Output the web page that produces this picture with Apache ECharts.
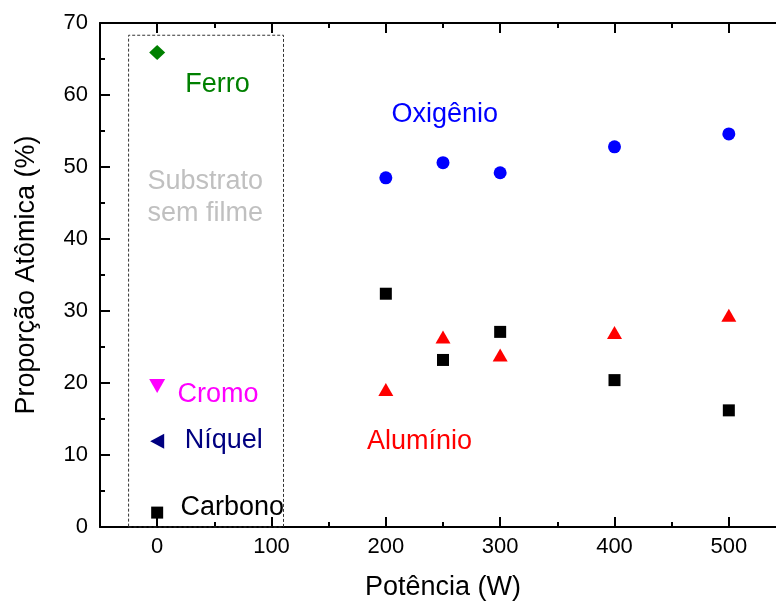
<!DOCTYPE html>
<html>
<head>
<meta charset="utf-8">
<script src="https://cdn.jsdelivr.net/npm/echarts@6/dist/echarts.min.js"></script>
<style>html,body{margin:0;padding:0;background:#fff;}#c{width:776px;height:602px;}</style>
</head>
<body>
<div id="c"></div>
<script>
// ---- data ----
const potencia = [200, 250, 300, 400, 500];
const oxigenio = [48.5, 50.6, 49.2, 52.8, 54.6];
const carbono  = [32.4, 23.2, 27.1, 20.4, 16.2];
const aluminio = [19.1, 26.4, 23.9, 27.0, 29.4];
const substratoX = 0;
const ferroSub   = 65.9;
const cromoSub   = 19.6;
const niquelSub  = 11.9;
const carbonoSub = 2.0;
const xMajor = [0, 100, 200, 300, 400, 500];
const xMinor = [50, 150, 250, 350, 450];
const labelTexts = ['Ferro', 'Oxigênio', 'Substrato', 'sem filme', 'Cromo', 'Níquel', 'Alumínio', 'Carbono'];

const FONT = "'Liberation Sans', Arial, sans-serif";
const chart = echarts.init(document.getElementById('c'), null, {renderer: 'canvas'});

function xAxisDef(pos, ticks, len, withLine, withLabel) {
  return {
    type: 'value', min: -50, max: 550, position: pos,
    axisLine: {show: withLine, onZero: false, lineStyle: {color: '#000', width: 2}},
    axisTick: {show: true, inside: true, length: len, customValues: ticks, lineStyle: {color: '#000', width: 2}},
    axisLabel: withLabel ? {show: true, customValues: xMajor, fontSize: 22, color: '#000', fontFamily: FONT, margin: 9} : {show: false},
    splitLine: {show: false}
  };
}
function yAxisDef(pos, withLabel) {
  return {
    type: 'value', min: 0, max: 70, interval: 10, position: pos,
    axisLine: {show: true, onZero: false, lineStyle: {color: '#000', width: 2}},
    axisTick: {show: true, inside: true, length: 10, lineStyle: {color: '#000', width: 2}},
    minorTick: {show: true, splitNumber: 2, length: 5, lineStyle: {color: '#000', width: 2}},
    axisLabel: withLabel ? {show: true, fontSize: 22, color: '#000', fontFamily: FONT, margin: 12} : {show: false},
    splitLine: {show: false}
  };
}

const xBottom = xAxisDef('bottom', xMajor, 10, true, true);
xBottom.name = 'Potência (W)';
xBottom.nameLocation = 'middle';
xBottom.nameGap = 47;
xBottom.nameTextStyle = {fontSize: 27, color: '#000', fontFamily: FONT};
const yLeft = yAxisDef('left', true);
yLeft.name = 'Proporção Atômica (%)';
yLeft.nameLocation = 'middle';
yLeft.nameGap = 60;
yLeft.nameTextStyle = {fontSize: 27, color: '#000', fontFamily: FONT};

const labelPos = [[52.7, 61.5], [251.6, 57.3], [42, 48.0], [42, 43.6], [53.3, 18.4], [58.2, 12.0], [229.5, 11.8], [65.6, 2.7]];
const labelColors = ['#008000', '#0000ff', '#c0c0c0', '#c0c0c0', '#ff00ff', '#000080', '#ff0000', '#000000'];

const option = {
  animation: false,
  backgroundColor: '#fff',
  grid: {left: 100, top: 23, width: 686, height: 504, containLabel: false, outerBoundsMode: 'none'},
  xAxis: [xBottom, xAxisDef('bottom', xMinor, 5, false, false), xAxisDef('top', xMajor, 10, true, false), xAxisDef('top', xMinor, 5, false, false)],
  yAxis: [yLeft, yAxisDef('right', false)],
  series: [
    {
      type: 'scatter', name: 'Oxigênio', symbol: 'circle', symbolSize: 13,
      itemStyle: {color: '#0000ff', opacity: 1},
      data: potencia.map((p, i) => [p, oxigenio[i]]),
      markArea: {
        silent: true,
        itemStyle: {color: 'rgba(0,0,0,0)', borderColor: '#333', borderWidth: 1, borderType: [3, 2], opacity: 1},
        data: [[{coord: [-25, 0]}, {coord: [110.5, 68.3]}]]
      }
    },
    {
      type: 'scatter', name: 'Carbono', symbol: 'rect', symbolSize: 12,
      itemStyle: {color: '#000000', opacity: 1},
      data: [[substratoX, carbonoSub]].concat(potencia.map((p, i) => [p, carbono[i]]))
    },
    {
      type: 'scatter', name: 'Alumínio', symbol: 'triangle', symbolSize: [15, 13],
      itemStyle: {color: '#ff0000', opacity: 1},
      data: potencia.map((p, i) => [p, aluminio[i]])
    },
    {
      type: 'scatter', name: 'Ferro', symbol: 'diamond', symbolSize: [16, 15],
      itemStyle: {color: '#008000', opacity: 1},
      data: [[substratoX, ferroSub]]
    },
    {
      type: 'scatter', name: 'Cromo', symbol: 'path://M0,0 L10,0 L5,9 Z', symbolSize: [16, 14], symbolKeepAspect: false,
      itemStyle: {color: '#ff00ff', opacity: 1},
      data: [[substratoX, cromoSub]]
    },
    {
      type: 'scatter', name: 'Níquel', symbol: 'path://M0,5 L9,0 L9,10 Z', symbolSize: [14, 15], symbolKeepAspect: false,
      itemStyle: {color: '#000080', opacity: 1},
      data: [[substratoX, niquelSub]]
    },
    {
      type: 'scatter', name: 'labels', silent: true, symbolSize: 0,
      itemStyle: {color: 'rgba(0,0,0,0)', opacity: 1},
      label: {show: true, position: 'inside', fontSize: 27, fontFamily: FONT, formatter: p => p.name},
      data: labelTexts.map((t, i) => ({name: t, value: labelPos[i], label: {color: labelColors[i]}}))
    }
  ]
};
chart.setOption(option);
</script>
</body>
</html>
